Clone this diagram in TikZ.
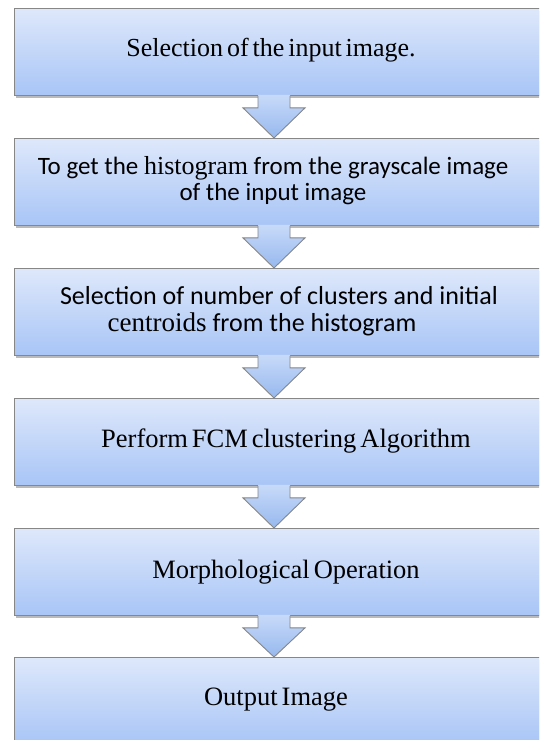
\documentclass[tikz,border=0pt]{standalone}
\usepackage{fontspec}
\setmainfont{Liberation Serif}
\newfontfamily\calfont{Carlito}
\newfontfamily\serfont[WordSpace={0.6,0,0}]{Liberation Serif}
\usetikzlibrary{calc,shadows}
\definecolor{boxtop}{RGB}{222,232,251}
\definecolor{boxbot}{RGB}{168,197,246}
\definecolor{arrtop}{RGB}{200,218,249}
\definecolor{arrbot}{RGB}{150,184,238}
\definecolor{edge}{RGB}{135,135,135}
\tikzset{
  stepbox/.style={draw=edge, line width=0.9pt, rectangle, anchor=north west,
    minimum width=545pt, minimum height=87pt, inner sep=0pt,
    top color=boxtop, bottom color=boxbot,
    drop shadow={shadow xshift=1.2pt, shadow yshift=-2.2pt, opacity=0.45, fill=black!60}},
  serif/.style={font=\serfont\fontsize{26.5}{29}\selectfont, inner sep=0pt, align=center},
  sans/.style={font=\calfont\fontsize{25}{26}\selectfont, inner sep=0pt, align=center},
  arrowfill/.style={top color=arrtop, bottom color=arrbot, draw=none},
  arrowedge/.style={draw=edge, line width=0.9pt, line join=miter},
}
\newcommand\flowarrow[3]{%
  \coordinate (A) at (#1 |- #2.south);
  \coordinate (B) at (#1 |- #3.north);
  \fill[black!50, opacity=0.35, shift={(1.5pt,-1.5pt)}]
    ($(A)+(-16,0)$) -- ($(A)+(-16,-12)$) -- ($(A)+(-31,-12)$) -- (B) --
    ($(A)+(31,-12)$) -- ($(A)+(16,-12)$) -- ($(A)+(16,0)$) -- cycle;
  \path[arrowfill]
    ($(A)+(-16,1)$) -- ($(A)+(-16,-12)$) -- ($(A)+(-31,-12)$) -- (B) --
    ($(A)+(31,-12)$) -- ($(A)+(16,-12)$) -- ($(A)+(16,1)$) -- cycle;
  \draw[arrowedge]
    ($(A)+(-16,0)$) -- ($(A)+(-16,-12)$) -- ($(A)+(-31,-12)$) -- (B) --
    ($(A)+(31,-12)$) -- ($(A)+(16,-12)$) -- ($(A)+(16,0)$);
}
\begin{document}
\begin{tikzpicture}[x=1pt,y=1pt]
\useasboundingbox (0,0) rectangle (539,-740);
\clip (0,0) rectangle (539,-740);
\fill[white] (0,0) rectangle (539,-740);
% boxes
\node[stepbox] (b1) at (14,-8) {};
\node[stepbox] (b2) at (14,-138) {};
\node[stepbox] (b3) at (14,-268) {};
\node[stepbox] (b4) at (14,-398) {};
\node[stepbox] (b5) at (14,-528) {};
\node[stepbox] (b6) at (14,-657) {};
% texts
\node[serif, font=\serfont\fontsize{26}{29}\selectfont] (t1) at (271,-50) {Selection of the input image.};
\node[sans]  (t2) at (273,-181) {To get the {\serfont\fontsize{26}{26}\selectfont histogram} from the grayscale image\\of the input image};
\node[sans, font=\calfont\fontsize{26}{27}\selectfont]  (t3) at (279,-311) {Selection of number of clusters and initial\\\hspace*{-34pt}{\serfont\fontsize{27}{27}\selectfont centroids} from the histogram};
\node[serif] (t4) at (286,-441) {Perform FCM clustering Algorithm};
\node[serif] (t5) at (286,-572) {Morphological Operation};
\node[serif] (t6) at (276,-700) {Output Image};
% arrows
\coordinate (c1) at (274,-51);
\flowarrow{c1}{b1}{b2}
\flowarrow{c1}{b2}{b3}
\flowarrow{c1}{b3}{b4}
\flowarrow{c1}{b4}{b5}
\flowarrow{c1}{b5}{b6}
\end{tikzpicture}
\end{document}
